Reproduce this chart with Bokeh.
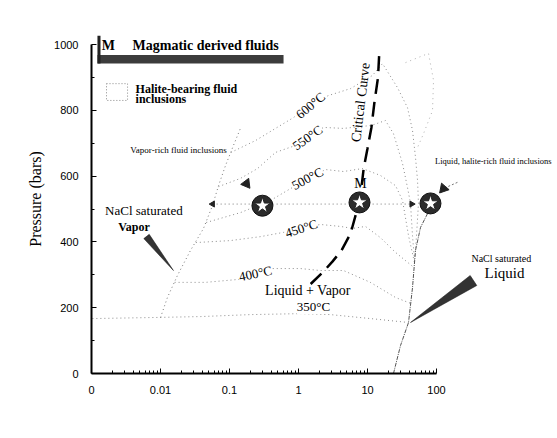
import numpy as np
from bokeh.plotting import figure
from bokeh.models import Range1d, FixedTicker, CustomJSTickFormatter, Label, LabelSet, ColumnDataSource
from bokeh.embed import file_html
from bokeh.resources import INLINE
from bokeh.core.properties import value

SERIF = "Liberation Serif"
SANS = "Liberation Sans"

# ---------------- data (wt % NaCl, pressure in bars) ----------------
x_ticks = [0.001, 0.01, 0.1, 1, 10, 100]
x_tick_labels = ["0", "0.01", "0.1", "1", "10", "100"]
y_ticks = [0, 200, 400, 600, 800, 1000]

crit_w = [1.5, 2.3, 3.1, 4.2, 5.7, 6.7, 7.7, 8.8, 10.0, 11.4, 12.6, 14.2, 14.9]
crit_p = [272, 310, 340, 374, 426, 480, 520, 623, 684, 748, 824, 900, 985]

vsat_w = [0.0100, 0.0126, 0.0176, 0.0272, 0.042, 0.0568, 0.0693, 0.0875, 0.114, 0.144]
vsat_p = [170, 231, 298, 374, 441, 511, 571, 632, 693, 745]

liq_w = [23.8, 30.1, 39.3, 44.9, 49.6, 58.7, 74.1, 81.8]
liq_p = [0, 85, 155, 261, 374, 444, 486, 517]

t600_w = [0.105, 0.238, 0.464, 0.847, 1.49, 2.72, 5.68, 11.8, 16.5, 27.2, 38.0, 44.9, 49.6, 53.1, 54.8, 51.3, 49.0]
t600_p = [672, 708, 745, 778, 818, 845, 866, 906, 942, 869, 808, 739, 657, 587, 517, 419, 359]
t550_w = [0.0693, 0.144, 0.255, 0.464, 0.819, 1.35, 2.30, 4.49, 11.4, 18.2, 23.8, 32.2, 38.0, 42.0, 44.9, 48.2]
t550_p = [568, 593, 623, 672, 690, 717, 748, 745, 754, 769, 729, 638, 565, 517, 419, 340]
t500_w = [0.046, 0.144, 0.393, 0.766, 1.35, 2.46, 4.49, 8.47, 15.4, 25.5, 32.2, 39.3, 48.0]
t500_p = [459, 489, 526, 562, 590, 620, 614, 623, 602, 571, 526, 419, 337]
t450_w = [0.0325, 0.103, 0.281, 0.607, 1.07, 2.08, 4.06, 6.07, 9.35, 15.4, 25.5, 47.2]
t450_p = [398, 404, 416, 429, 441, 453, 447, 441, 447, 413, 368, 322]
t400_w = [0.016, 0.0449, 0.135, 0.238, 0.420, 1.07, 2.08, 4.49, 11.0, 25.5, 42.4]
t400_p = [277, 277, 286, 301, 319, 319, 313, 313, 277, 231, 213]
t350_w = [0.00103, 0.00716, 0.038, 0.201, 1.07, 2.91, 11.0, 39.3]
t350_p = [167, 170, 173, 179, 182, 179, 167, 155]
extra_w = [35.6, 76.6, 90.6, 87.5, 64.9, 53.1]
extra_p = [945, 973, 891, 799, 729, 687]

iso_labels = ["600°C", "550°C", "500°C", "450°C", "400°C", "350°C"]
iso_lab_w = [1.49, 1.35, 1.35, 1.10, 0.238, 1.65]
iso_lab_p = [815, 717, 593, 441, 304, 204]
iso_lab_angle = [40, 35, 28, 18, 12, 0]

star_w = [0.30, 7.66, 81.8]
star_p = [510, 520, 517]

tie_w = [0.057, 47.0]
tie_p = [515, 515]

wedge_v_w = [0.00686, 0.00573, 0.0154]
wedge_v_p = [423, 410, 313]
wedge_l_w = [383.7, 307.6, 42.0]
wedge_l_p = [267.5, 297.9, 155]

# ---------------- figure ----------------
p = figure(width=557, height=438, x_axis_type="log",
           x_range=Range1d(0.001, 5670), y_range=Range1d(0, 1073),
           output_backend="svg", toolbar_location=None,
           min_border_left=91, min_border_right=0, min_border_top=20, min_border_bottom=65)
p.outline_line_color = None
p.grid.visible = False
p.background_fill_color = "white"
p.border_fill_color = "white"

p.xaxis.bounds = (0.001, 100)
p.yaxis.bounds = (0, 1000)
minor_x = [m * d for d in [0.001, 0.01, 0.1, 1, 10] for m in range(2, 10)]
p.xaxis.ticker = FixedTicker(ticks=x_ticks, minor_ticks=minor_x)
p.yaxis.ticker = FixedTicker(ticks=y_ticks, minor_ticks=[100, 300, 500, 700, 900])
p.xaxis.formatter = CustomJSTickFormatter(args=dict(t=x_ticks, l=x_tick_labels), code="""
    let best = 0;
    for (let i = 0; i < t.length; i++) { if (Math.abs(Math.log10(t[i]) - Math.log10(tick)) < 0.01) best = i; }
    return l[best];
""")
for ax in (p.xaxis[0], p.yaxis[0]):
    ax.axis_line_width = 2
    ax.axis_line_color = "black"
    ax.major_tick_in = 5
    ax.major_tick_out = 0
    ax.minor_tick_in = 3
    ax.minor_tick_out = 0
    ax.major_tick_line_color = "black"
    ax.minor_tick_line_color = "black"
    ax.major_label_text_font = SANS
    ax.major_label_text_font_size = "11px"
    ax.major_label_text_color = "black"
p.xaxis.major_label_standoff = 12
p.yaxis.major_label_standoff = 13
p.yaxis.axis_label = "Pressure  (bars)"
p.yaxis.axis_label_text_font = SERIF
p.yaxis.axis_label_text_font_style = "normal"
p.yaxis.axis_label_text_font_size = "16px"
p.yaxis.axis_label_text_color = "black"
p.yaxis.axis_label_standoff = 7

p.add_layout(Label(x=2.63, y=-143, text="wt % NaCl", text_align="center", text_baseline="middle",
                   text_font=SERIF, text_font_size="17px", text_color="black"))

# ---------------- curves ----------------
iso_style = dict(line_color="#8a8a8a", line_width=1, line_dash="1 3")
for w, pr in [(t600_w, t600_p), (t550_w, t550_p), (t500_w, t500_p), (t450_w, t450_p),
              (t400_w, t400_p), (t350_w, t350_p)]:
    p.line(w, pr, **iso_style)
p.line(extra_w, extra_p, line_color="#b0b0b0", line_width=1, line_dash="1 4")
p.line(vsat_w, vsat_p, line_color="#777777", line_width=1, line_dash="1 3")
p.line(liq_w, liq_p, line_color="#555555", line_width=1, line_dash="4 1 1 1")
p.line(tie_w, tie_p, line_color="#7a7a7a", line_width=1, line_dash="1 3")
p.line(crit_w, crit_p, line_color="black", line_width=2.5, line_dash="15 8")

# wedge arrows
p.patch(wedge_v_w, wedge_v_p, fill_color="#333333", line_color="#111111", line_width=0.5)
p.patch(wedge_l_w, wedge_l_p, fill_color="#333333", line_color="#111111", line_width=0.5)

# small arrowheads on the tie line
p.scatter([tie_w[0]], [tie_p[0]], marker="triangle", size=6, angle=90, angle_units="deg",
          fill_color="#222222", line_color="#222222")
p.scatter([tie_w[1] * 0.93], [tie_p[1]], marker="triangle", size=6, angle=-90, angle_units="deg",
          fill_color="#222222", line_color="#222222")
# pointer arrowheads
p.line([201, 126], [581, 562], line_color="#777777", line_width=1, line_dash="2 2")
p.scatter([0.176], [577], marker="triangle", size=10, angle=-143, angle_units="deg",
          fill_color="#222222", line_color="#222222")
p.scatter([126], [562], marker="triangle", size=10, angle=139, angle_units="deg",
          fill_color="#222222", line_color="#222222")

# stars
p.scatter(star_w, star_p, marker="circle", size=21, fill_color="#2b2b2b", line_color="#111111", line_width=1)
p.scatter(star_w, star_p, marker="star", size=17, fill_color="white", line_color="#222222", line_width=1)

# ---------------- legend box ----------------
p.quad(left=[0.00122], right=[0.607], bottom=[942], top=[968], fill_color="#3c3c3c", line_color=None)
p.quad(left=[0.00122], right=[0.00135], bottom=[942], top=[1027], fill_color="#222222", line_color=None)
p.quad(left=[0.00165], right=[0.00333], bottom=[830], top=[881], fill_color=None,
       line_color="#888888", line_dash="1 2", line_width=1)

def txt(x, y, s, size, style="normal", align="center", angle=0, color="black", font=SERIF):
    p.text(x=[x], y=[y], text=[s], text_font=value(font), text_font_size=size,
           text_font_style=style, text_align=align, text_baseline="middle",
           angle=angle, angle_units="deg", text_color=color)

txt(0.00176, 997, "M", "14px", "bold")
txt(0.00393, 997, "Magmatic derived fluids", "14px", "bold", align="left")
txt(0.00435, 866, "Halite-bearing fluid", "12px", "bold", align="left")
txt(0.00435, 833, "inclusions", "12px", "bold", align="left")

txt(0.01824, 678, "Vapor-rich fluid inclusions", "9px")
txt(95.0, 647, "Liquid, halite-rich fluid inclusions", "8.5px", align="left")
txt(0.00606, 495, "NaCl  saturated", "13px")
txt(0.00413, 444, "Vapor", "12px", "bold")
txt(906, 350, "NaCl  saturated", "10px")
txt(968, 304, "Liquid", "15px")
txt(7.93, 578, "M", "14px")
txt(7.93, 824, "Critical Curve", "14px", angle=83)
txt(1.37, 252, "Liquid + Vapor", "14px")

src = ColumnDataSource(dict(x=iso_lab_w, y=iso_lab_p, t=iso_labels, a=iso_lab_angle))
p.add_layout(LabelSet(x="x", y="y", text="t", angle="a", angle_units="deg", source=src,
                      text_align="center", text_baseline="middle", text_font=SERIF,
                      text_font_size="13px", text_color="black",
                      background_fill_color="white"))

open("out.html", "w").write(file_html(p, INLINE))
